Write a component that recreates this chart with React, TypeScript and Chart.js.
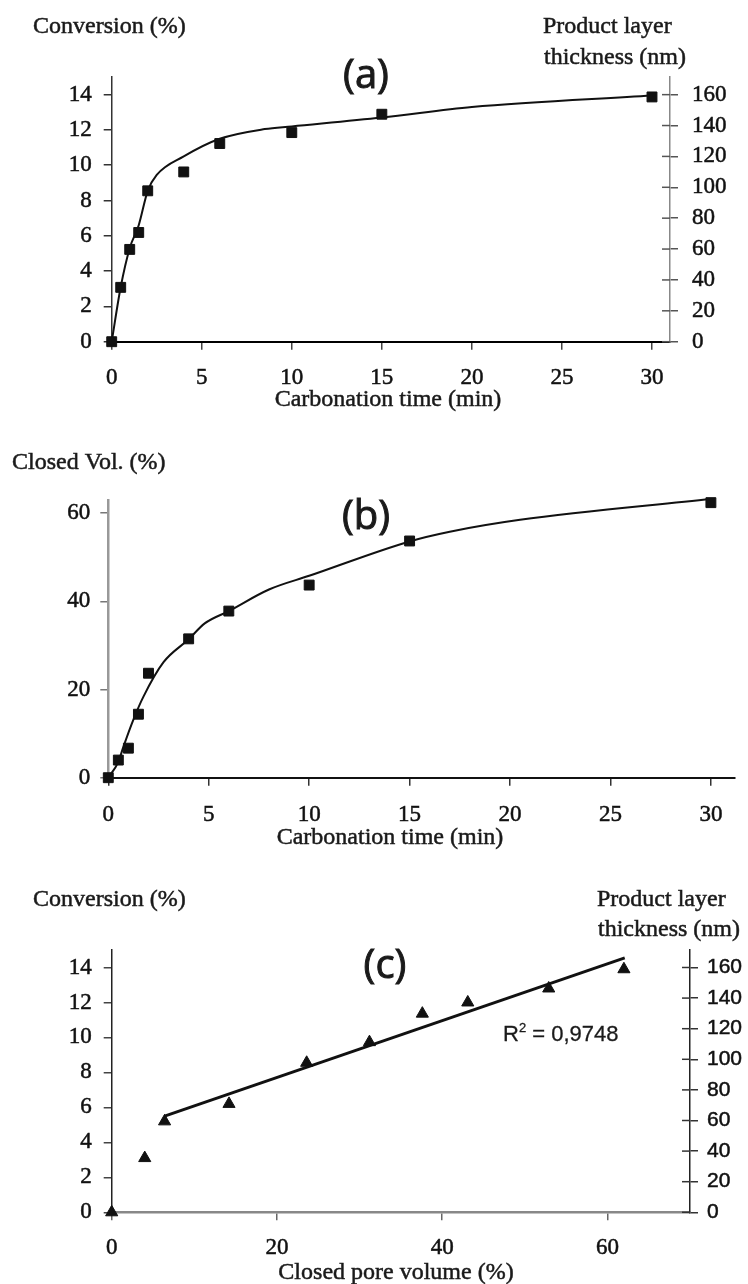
import React, { useEffect, useRef } from 'react';
import { Chart, registerables } from 'chart.js';
Chart.register(...registerables);

// ---------- Panel (a): conversion vs carbonation time ----------
const timeA = [0, 0.5, 1, 1.5, 2, 4, 6, 10, 15, 30];
const conversionA = [0, 3.08, 5.23, 6.19, 8.55, 9.62, 11.23, 11.85, 12.89, 13.87];
const fitTimeA = [0, 0.5, 1, 1.5, 2, 2.5, 4, 6, 8.5, 10, 15, 20, 30];
const fitConvA = [0, 3.1, 5.3, 6.6, 8.55, 9.45, 10.5, 11.5, 12.05, 12.2, 12.7, 13.3, 13.95];

// ---------- Panel (b): closed volume vs carbonation time ----------
const timeB = [0, 0.5, 1, 1.5, 2, 4, 6, 10, 15, 30];
const closedVolB = [0, 4.0, 6.7, 14.4, 23.7, 31.5, 37.8, 43.7, 53.7, 62.4];
const fitTimeB = [0, 0.5, 0.75, 1.25, 1.75, 2.75, 4, 4.8, 6, 8, 10, 15, 17, 20.5, 30];
const fitVolB = [0, 3.6, 7, 13.2, 18.4, 26.2, 31.4, 35, 37.8, 42.7, 45.8, 53.6, 55.8, 58.5, 63.2];

// ---------- Panel (c): conversion vs closed pore volume ----------
const poreVolC = [0, 4.0, 6.4, 14.2, 23.6, 31.2, 37.6, 43.1, 52.9, 62.0];
const conversionC = [0, 3.1, 5.2, 6.2, 8.55, 9.73, 11.36, 12.0, 12.8, 13.9];
const trendXC = [6.4, 62.1];
const trendYC = [5.5, 14.55];
const r2Label = '0,9748';

// ---------- tick labels ----------
const timeTicks = [0, 5, 10, 15, 20, 25, 30];
const conversionTicks = [0, 2, 4, 6, 8, 10, 12, 14];
const thicknessTicks = [0, 20, 40, 60, 80, 100, 120, 140, 160];
const closedVolTicks = [0, 20, 40, 60];
const poreVolTicks = [0, 20, 40, 60];

const SERIF = '"Liberation Serif", "Times New Roman", serif';
const SANS = '"Liberation Sans", Arial, sans-serif';
const LABEL = '"Open Sans", "Liberation Sans", sans-serif';

const pts = (xs: number[], ys: number[]) => xs.map((x, i) => ({ x, y: ys[i] }));
const fixedTicks = (vals: number[]) => (s: any) => {
  s.ticks = vals.map((v) => ({ value: v }));
};

type Item = {
  text?: string;
  x: number;
  y: number;
  font: string;
  align?: CanvasTextAlign;
  stroke?: number;
  parts?: { text: string; font: string; dy?: number }[];
};

const textPlugin = (items: Item[]) => ({
  id: 'panelText',
  afterDraw(chart: any) {
    const ctx = chart.ctx;
    for (const it of items) {
      ctx.save();
      ctx.fillStyle = '#1a1a1a';
      ctx.strokeStyle = '#1a1a1a';
      ctx.lineWidth = it.stroke ?? 0.5;
      ctx.textBaseline = 'middle';
      ctx.textAlign = it.align || 'left';
      if (it.parts) {
        let x = it.x;
        ctx.textAlign = 'left';
        for (const p of it.parts) {
          ctx.font = p.font;
          ctx.fillText(p.text, x, it.y + (p.dy || 0));
          if (ctx.lineWidth > 0) ctx.strokeText(p.text, x, it.y + (p.dy || 0));
          x += ctx.measureText(p.text).width;
        }
      } else {
        ctx.font = it.font;
        ctx.fillText(it.text, it.x, it.y);
        if (ctx.lineWidth > 0) ctx.strokeText(it.text, it.x, it.y);
      }
      ctx.restore();
    }
  },
});

const crossTicks = (id: string, len: number, color: string, width: number) => ({
  id: 'crossTicks',
  afterDraw(chart: any) {
    const s = chart.scales[id];
    if (!s) return;
    const ctx = chart.ctx;
    ctx.save();
    ctx.strokeStyle = color;
    ctx.lineWidth = width;
    for (const t of s.ticks) {
      const y = s.getPixelForValue(t.value);
      ctx.beginPath();
      ctx.moveTo(s.left - len, y);
      ctx.lineTo(s.left, y);
      ctx.stroke();
    }
    ctx.restore();
  },
});

const tickFont = (family: string, size: number) => ({ family, size });

function axis(opts: any) {
  const { min, max, position, ticks, size, horizontal, borderColor, borderWidth, tickColor, padding, font } = opts;
  return {
    type: 'linear',
    min,
    max,
    position,
    display: true,
    afterBuildTicks: fixedTicks(ticks),
    afterFit: (s: any) => {
      if (horizontal) s.height = size;
      else s.width = size;
    },
    grid: { drawOnChartArea: false, drawTicks: true, tickLength: 8, tickColor, lineWidth: 1.5 },
    border: { display: true, color: borderColor, width: borderWidth },
    ticks: {
      font,
      color: '#111',
      padding,
      maxRotation: 0,
      autoSkip: false,
      textStrokeColor: '#111',
      textStrokeWidth: 0.5,
    },
  };
}

const baseOptions = (padding: any) => ({
  responsive: false,
  animation: false,
  devicePixelRatio: 1,
  layout: { padding },
  plugins: { legend: { display: false }, tooltip: { enabled: false } },
  events: [],
});

function configA() {
  return {
    type: 'scatter',
    data: {
      datasets: [
        { label: 'Conversion (%)', data: pts(timeA, conversionA), pointStyle: 'rect', pointRadius: 7, backgroundColor: '#111', borderColor: '#111', borderWidth: 1, showLine: false, clip: false },
        { label: 'Fit', data: pts(fitTimeA, fitConvA), showLine: true, pointRadius: 0, borderColor: '#111', borderWidth: 2, cubicInterpolationMode: 'monotone', clip: false },
      ],
    },
    options: {
      ...baseOptions({ top: 77, left: 0, right: 0, bottom: 0 }),
      scales: {
        x: axis({ min: 0, max: 31, position: 'bottom', ticks: timeTicks, size: 88.3, horizontal: true, borderColor: '#000', borderWidth: 2, tickColor: '#444', padding: 14, font: tickFont(SERIF, 23) }),
        y: axis({ min: 0, max: 15, position: 'left', ticks: conversionTicks, size: 111.7, borderColor: '#333', borderWidth: 1.5, tickColor: '#333', padding: 12, font: tickFont(SERIF, 23) }),
        y2: axis({ min: 0, max: 171.43, position: 'right', ticks: thicknessTicks, size: 78, borderColor: '#888', borderWidth: 1.5, tickColor: '#555', padding: 14, font: tickFont(SERIF, 23) }),
      },
    },
    plugins: [
      textPlugin([
        { text: 'Conversion (%)', x: 33, y: 27, font: `24px ${SERIF}` },
        { text: 'Product layer', x: 543, y: 27, font: `24px ${SERIF}` },
        { text: 'thickness (nm)', x: 544, y: 58, font: `24px ${SERIF}` },
        { text: '(a)', x: 366, y: 77, font: `40px ${LABEL}`, align: 'center', stroke: 0 },
        { text: 'Carbonation time (min)', x: 388, y: 400, font: `24px ${SERIF}`, align: 'center' },
      ]),
      crossTicks('y2', 8, '#555', 1.5),
    ],
  };
}

function configB() {
  return {
    type: 'scatter',
    data: {
      datasets: [
        { label: 'Closed Vol. (%)', data: pts(timeB, closedVolB), pointStyle: 'rect', pointRadius: 7, backgroundColor: '#111', borderColor: '#111', borderWidth: 1, showLine: false, clip: false },
        { label: 'Fit', data: pts(fitTimeB, fitVolB), showLine: true, pointRadius: 0, borderColor: '#111', borderWidth: 2, cubicInterpolationMode: 'monotone', clip: false },
      ],
    },
    options: {
      ...baseOptions({ top: 70, left: 0, right: 13, bottom: 0 }),
      scales: {
        x: axis({ min: 0, max: 31.2, position: 'bottom', ticks: timeTicks, size: 82.3, horizontal: true, borderColor: '#111', borderWidth: 2, tickColor: '#333', padding: 15, font: tickFont(SERIF, 23) }),
        y: axis({ min: 0, max: 63, position: 'left', ticks: closedVolTicks, size: 108.3, borderColor: '#999', borderWidth: 2.5, tickColor: '#777', padding: 10, font: tickFont(SERIF, 23) }),
      },
    },
    plugins: [
      textPlugin([
        { text: 'Closed Vol. (%)', x: 12, y: 33, font: `24px ${SERIF}` },
        { text: '(b)', x: 366, y: 88, font: `40px ${LABEL}`, align: 'center', stroke: 0 },
        { text: 'Carbonation time (min)', x: 390, y: 408, font: `24px ${SERIF}`, align: 'center' },
      ]),
    ],
  };
}

function configC() {
  return {
    type: 'scatter',
    data: {
      datasets: [
        { label: 'Conversion (%)', data: pts(poreVolC, conversionC), pointStyle: 'triangle', pointRadius: 7, backgroundColor: '#111', borderColor: '#111', borderWidth: 1, showLine: false, clip: false },
        { label: 'Linear fit', data: pts(trendXC, trendYC), showLine: true, pointRadius: 0, borderColor: '#111', borderWidth: 3, clip: false },
      ],
    },
    options: {
      ...baseOptions({ top: 90, left: 0, right: 0, bottom: 0 }),
      scales: {
        x: axis({ min: 0, max: 70, position: 'bottom', ticks: poreVolTicks, size: 71.7, horizontal: true, borderColor: '#888', borderWidth: 2.5, tickColor: '#666', padding: 14, font: tickFont(SERIF, 23) }),
        y: axis({ min: 0, max: 15, position: 'left', ticks: conversionTicks, size: 111.7, borderColor: '#222', borderWidth: 1.5, tickColor: '#444', padding: 12, font: tickFont(SERIF, 23) }),
        y2: axis({ min: 0, max: 171.43, position: 'right', ticks: thicknessTicks, size: 58, borderColor: '#222', borderWidth: 1.5, tickColor: '#333', padding: 9, font: tickFont(SANS, 21) }),
      },
    },
    plugins: [
      textPlugin([
        { text: 'Conversion (%)', x: 33, y: 40, font: `24px ${SERIF}` },
        { text: 'Product layer', x: 597, y: 40, font: `24px ${SERIF}` },
        { text: 'thickness (nm)', x: 598, y: 70, font: `24px ${SERIF}` },
        { text: '(c)', x: 385, y: 107, font: `40px ${LABEL}`, align: 'center', stroke: 0 },
        {
          x: 503,
          y: 175,
          font: `22px ${SANS}`,
          stroke: 0.3,
          parts: [
            { text: 'R', font: `22px ${SANS}` },
            { text: '2', font: `13px ${SANS}`, dy: -7 },
            { text: ' = ' + r2Label, font: `22px ${SANS}` },
          ],
        },
        { text: 'Closed pore volume (%)', x: 396, y: 413, font: `24px ${SERIF}`, align: 'center' },
      ]),
      crossTicks('y2', 8, '#333', 1.5),
    ],
  };
}

function Panel({ top, height, build }: { top: number; height: number; build: () => any }) {
  const ref = useRef<HTMLCanvasElement | null>(null);
  useEffect(() => {
    const chart = new Chart(ref.current as HTMLCanvasElement, build());
    return () => chart.destroy();
  }, []);
  return (
    <canvas
      ref={ref}
      width={748}
      height={height}
      style={{ position: 'absolute', left: 0, top, width: 748, height, display: 'block' }}
    />
  );
}

export default function App() {
  return (
    <div style={{ position: 'absolute', left: 0, top: 0, width: 748, height: 1284, background: '#fff', overflow: 'hidden' }}>
      <Panel top={0} height={430} build={configA} />
      <Panel top={430} height={430} build={configB} />
      <Panel top={860} height={424} build={configC} />
    </div>
  );
}
